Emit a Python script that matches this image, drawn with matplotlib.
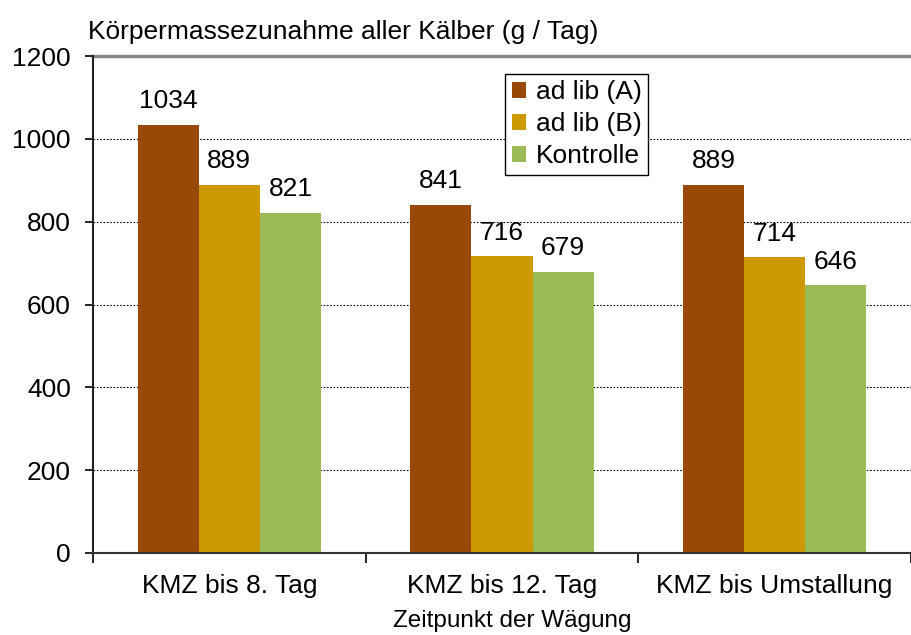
import matplotlib.pyplot as plt
import numpy as np

plt.rcParams['font.family'] = ['Liberation Sans', 'DejaVu Sans']

categories = ["KMZ bis 8. Tag", "KMZ bis 12. Tag", "KMZ bis Umstallung"]
series_names = ["ad lib (A)", "ad lib (B)", "Kontrolle"]
values_a = [1034, 841, 889]
values_b = [889, 716, 714]
values_k = [821, 679, 646]
colors = ["#984807", "#CC9900", "#9BBB59"]
y_ticks = [0, 200, 400, 600, 800, 1000, 1200]

FS = 19

fig = plt.figure(figsize=(9.11, 6.35), dpi=100)
ax = fig.add_axes([93 / 911, (635 - 553) / 635, (911 - 93) / 911, (553 - 56) / 635])

x = np.arange(len(categories))
w = 0.224
for i, (vals, name, c) in enumerate(zip([values_a, values_b, values_k], series_names, colors)):
    pos = x + (i - 1) * w
    ax.bar(pos, vals, width=w, color=c, label=name, zorder=2)
    for px, v in zip(pos, vals):
        ax.text(px, v + 28, str(v), ha="center", va="bottom", fontsize=FS, zorder=3)

ax.set_xlim(-0.5, len(categories) - 0.5)
ax.set_ylim(0, 1200)
ax.set_yticks(y_ticks)
ax.tick_params(axis="y", labelsize=FS, length=6, width=1.2, direction="out", pad=10)
ax.set_xticks(x)
ax.set_xticklabels(categories, fontsize=FS)
ax.tick_params(axis="x", length=0, pad=15)
ax.set_xticks(np.arange(len(categories) + 1) - 0.5, minor=True)
ax.tick_params(axis="x", which="minor", length=7, width=1.2, direction="out")

for t in y_ticks[1:-1]:
    ax.axhline(t, color="black", lw=0.8, ls=(0, (1.5, 1.5)), zorder=1)
ax.axhline(1200, color="#888888", lw=2.5, zorder=1, clip_on=False)

ax.spines["right"].set_visible(False)
ax.spines["top"].set_visible(False)
ax.spines["left"].set_color("#222222")
ax.spines["left"].set_linewidth(1.5)
ax.spines["bottom"].set_color("#333333")
ax.spines["bottom"].set_linewidth(1.5)

ax.set_xlabel("Zeitpunkt der Wägung", fontsize=17.5, labelpad=9, x=0.513)
fig.text(88 / 911, 1 - 32 / 635, "Körpermassezunahme aller Kälber (g / Tag)",
         fontsize=FS, ha="left", va="center")

leg = ax.legend(loc="upper left", bbox_to_anchor=(0.504, 0.964), fontsize=FS,
                frameon=True, fancybox=False, edgecolor="black", framealpha=1,
                handlelength=0.55, handleheight=0.55, handletextpad=0.35,
                borderpad=0.25, labelspacing=0.3, borderaxespad=0)
leg.get_frame().set_linewidth(1.0)

fig.savefig("out.png", dpi=100)
